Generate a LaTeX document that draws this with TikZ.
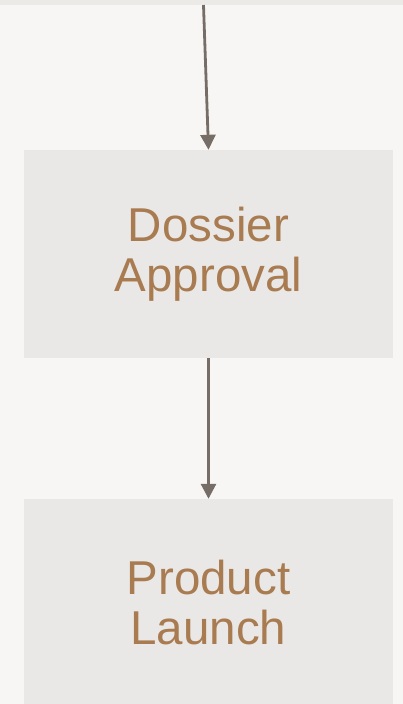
\documentclass[tikz,border=0pt]{standalone}
\usepackage{fontspec}
\setmainfont{Liberation Sans}
\usepackage{tikz}
\usetikzlibrary{arrows.meta}
\definecolor{fondo}{HTML}{F8F6F4}
\definecolor{banda}{HTML}{ECEAE7}
\definecolor{caja}{HTML}{EAE8E6}
\definecolor{texto}{HTML}{A97B50}
\definecolor{flecha}{HTML}{776D67}
\tikzstyle{etapa} = [fill=caja, rectangle, minimum width=369pt, minimum height=208pt, inner sep=0pt, align=center, text=texto, font=\fontsize{47.5}{50}\selectfont]
\tikzstyle{paso} = [draw=flecha, line width=2.8pt, -{Triangle[width=15pt,length=15pt]}]

\begin{document}
\begin{tikzpicture}[x=1pt,y=1pt]
		\useasboundingbox (0,0) rectangle (403,-704);
		\clip (0,0) rectangle (403,-704);
		\fill[fondo] (0,0) rectangle (403,-704);
		\fill[banda] (0,0) rectangle (403,-5);
		\node[etapa](dossier) at (208.5,-254){Dossier\\Approval};
		\node[etapa](launch) at (208.5,-603){Product\\Launch};
		\coordinate (inicio) at (203.5,-5);
		\draw[paso] (inicio) -- (dossier.north);
		\draw[paso] (dossier.south) -- (launch.north);
	\end{tikzpicture}
\end{document}
